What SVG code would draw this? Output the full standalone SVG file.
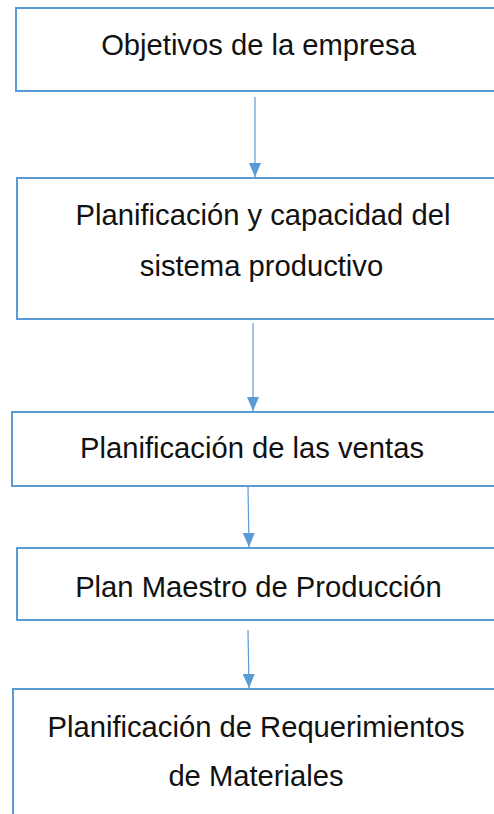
<svg xmlns="http://www.w3.org/2000/svg" width="494" height="814" viewBox="0 0 494 814">
<style>
.box{fill:#fff;stroke:#5B9BD5;stroke-width:2}
.t{font-family:"Liberation Sans",Arial,sans-serif;font-size:29.2px;fill:#111;text-anchor:middle}
.c{stroke:#5B9BD5;stroke-width:1.2;fill:none}
</style>
<defs>
<marker id="ah" markerWidth="14" markerHeight="12" refX="14" refY="6" orient="auto" markerUnits="userSpaceOnUse">
<path d="M0,0 L14,6 L0,12 Z" fill="#5B9BD5"/>
</marker>
</defs>
<rect width="494" height="814" fill="#fff"/>
<g id="connectors">
<line class="c" x1="255" y1="97" x2="255" y2="177" marker-end="url(#ah)"/>
<line class="c" x1="253" y1="323" x2="253" y2="411" marker-end="url(#ah)"/>
<line class="c" x1="248" y1="487" x2="249" y2="547" marker-end="url(#ah)"/>
<line class="c" x1="248" y1="630" x2="249" y2="688" marker-end="url(#ah)"/>
</g>
<g id="n1">
<rect class="box" x="16" y="8" width="490" height="83"/>
<text class="t" x="258.5" y="55">Objetivos de la empresa</text>
</g>
<g id="n2">
<rect class="box" x="17" y="178" width="490" height="141"/>
<text class="t" x="263" y="225">Planificación y capacidad del</text>
<text class="t" x="261.5" y="276">sistema productivo</text>
</g>
<g id="n3">
<rect class="box" x="12" y="412" width="495" height="74"/>
<text class="t" x="252" y="458">Planificación de las ventas</text>
</g>
<g id="n4">
<rect class="box" x="17" y="548" width="490" height="72"/>
<text class="t" x="258.5" y="597">Plan Maestro de Producción</text>
</g>
<g id="n5">
<rect class="box" x="13" y="689" width="494" height="140"/>
<text class="t" x="256" y="737">Planificación de Requerimientos</text>
<text class="t" x="256" y="786">de Materiales</text>
</g>
</svg>
